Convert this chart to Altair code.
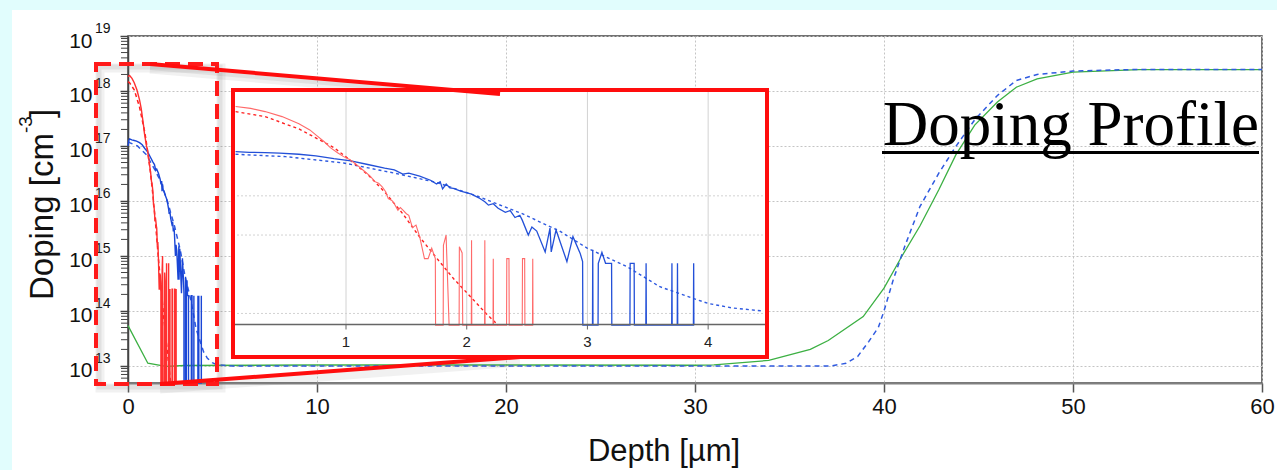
import altair as alt
import pandas as pd

# ---------------------------------------------------------------------------
# Doping profiles: depth in µm, concentration in cm^-3 (0 = no counts)
# ---------------------------------------------------------------------------
red_meas_depth = [0.00, 0.085, 0.21, 0.33, 0.47, 0.61, 0.70, 0.755, 0.82, 0.87,
                  0.93, 0.98, 1.03, 1.07, 1.11, 1.15, 1.20, 1.24, 1.27, 1.30,
                  1.33, 1.35, 1.38, 1.40, 1.43, 1.45, 1.47, 1.50, 1.52, 1.55,
                  1.58, 1.61, 1.65, 1.68, 1.71, 1.74, 1.742,
                  1.805, 1.807, 1.829, 1.854,
                  1.937, 1.939, 1.962, 1.967,
                  2.038, 2.040, 2.042,
                  2.148, 2.150, 2.152,
                  2.218, 2.220, 2.222,
                  2.330, 2.332, 2.350, 2.352,
                  2.460, 2.462, 2.480, 2.482,
                  2.545, 2.547, 2.549]
red_meas_doping = [1.82e18, 1.91e18, 1.70e18, 1.41e18, 1.05e18, 6.9e17, 4.8e17, 3.5e17, 2.4e17, 1.7e17,
                   1.26e17, 1.0e17, 8.5e16, 6.9e16, 5.5e16, 4.3e16, 3.2e16, 2.3e16, 2.1e16, 1.7e16,
                   1.26e16, 8.5e15, 7.6e15, 6.3e15, 4.3e15, 5.0e15, 4.4e15, 3.5e15, 3.2e15, 1.55e15,
                   1.8e15, 9.1e14, 2.5e14, 2.5e14, 4.6e14, 2.5e14, 0,
                   0, 5.5e14, 1.0e15, 0,
                   0, 5.0e14, 3.5e14, 0,
                   0, 7.4e14, 0,
                   0, 7.4e14, 0,
                   0, 2.5e14, 0,
                   0, 2.5e14, 2.5e14, 0,
                   0, 2.5e14, 2.5e14, 0,
                   0, 2.5e14, 0]

red_sim_depth = [0.00, 0.085, 0.33, 0.61, 0.90, 1.04, 1.18, 1.32, 1.47, 1.61,
                 1.75, 1.89, 2.04, 2.16, 2.26]
red_sim_doping = [1.48e18, 1.41e18, 1.05e18, 5.1e17, 1.7e17, 7.9e16, 3.5e16, 1.26e16, 3.5e15, 8.9e14,
                  2.6e14, 7.8e13, 2.5e13, 1.0e13, 5.0e12]

blue_meas_depth = [0.00, 0.04, 0.085, 0.20, 0.33, 0.45, 0.61, 0.75, 0.90, 1.04,
                   1.18, 1.32, 1.40, 1.47, 1.52, 1.61, 1.70, 1.75, 1.78, 1.80,
                   1.83, 1.86, 1.89, 1.95, 2.04, 2.10, 2.15, 2.18, 2.22, 2.26,
                   2.32, 2.36, 2.40, 2.44, 2.46, 2.51, 2.54, 2.58, 2.65, 2.69,
                   2.70, 2.74, 2.83, 2.88, 2.94, 2.96, 2.962,
                   3.042, 3.044, 3.046,
                   3.088, 3.090, 3.120, 3.150, 3.200, 3.202,
                   3.352, 3.354, 3.387, 3.389,
                   3.484, 3.486, 3.488,
                   3.698, 3.700, 3.702,
                   3.744, 3.746, 3.748,
                   3.878, 3.880, 3.882]
blue_meas_doping = [1.0e17, 1.26e17, 1.35e17, 1.29e17, 1.26e17, 1.23e17, 1.15e17, 1.05e17, 8.9e16, 7.8e16,
                    6.3e16, 5.1e16, 4.6e16, 3.6e16, 3.8e16, 3.2e16, 2.5e16, 2.0e16, 2.3e16, 1.5e16,
                    2.0e16, 1.6e16, 1.55e16, 1.32e16, 1.1e16, 8.9e15, 7.1e15, 5.8e15, 6.3e15, 4.8e15,
                    3.8e15, 4.2e15, 2.8e15, 3.2e15, 2.4e15, 1.0e15, 1.6e15, 1.26e15, 3.7e14, 1.5e15,
                    3.7e14, 1.35e15, 2.1e14, 9.1e14, 3.4e14, 2.1e14, 0,
                    0, 4.2e14, 0,
                    0, 1.9e14, 3.6e14, 1.9e14, 1.9e14, 0,
                    0, 1.9e14, 1.9e14, 0,
                    0, 1.9e14, 0,
                    0, 1.9e14, 0,
                    0, 1.9e14, 0,
                    0, 1.9e14, 0]

blue_sim_depth = [0.00, 0.085, 0.50, 0.98, 1.40, 1.75, 2.10, 2.46, 2.77, 3.00,
                  3.33, 3.60, 3.88, 4.00, 4.20, 4.46, 4.70, 5.50, 37.2, 38.0,
                  38.6, 39.2, 39.7, 40.0, 40.5, 41.1, 41.9, 42.9, 43.8, 44.8,
                  46.0, 47.0, 48.1, 50.0, 53.0, 60.0]
blue_sim_doping = [1.2e17, 1.15e17, 1.0e17, 6.9e16, 3.8e16, 2.2e16, 9.5e15, 3.5e15, 1.26e15, 4.6e14,
                   1.55e14, 4.8e13, 2.4e13, 1.8e13, 1.38e13, 1.15e13, 1.05e13, 1.0e13, 1.0e13, 1.12e13,
                   1.48e13, 2.8e13, 5.0e13, 1.0e14, 3.8e14, 1.5e15, 7.9e15, 3.2e16, 9.8e16, 3.0e17,
                   8.3e17, 1.55e18, 2.0e18, 2.3e18, 2.45e18, 2.45e18]

green_depth = [0.0, 1.05, 2.0, 3.0, 10.0, 20.0, 30.0, 31.0, 33.9, 36.1,
               37.05, 38.9, 40.0, 40.9, 41.9, 42.9, 43.8, 44.8, 46.0, 47.0,
               48.1, 50.0, 53.5, 60.0]
green_doping = [5.4e13, 1.12e13, 9.8e12, 1.02e13, 1.04e13, 1.04e13, 1.03e13, 1.05e13, 1.26e13, 2.0e13,
                2.9e13, 7.9e13, 2.6e14, 9.3e14, 3.5e15, 1.6e16, 6.9e16, 2.4e17, 6.3e17, 1.17e18,
                1.66e18, 2.2e18, 2.45e18, 2.45e18]

x_ticks = [0, 10, 20, 30, 40, 50, 60]
decades = [13, 14, 15, 16, 17, 18, 19]
inset_x_ticks = [1, 2, 3, 4]
inset_grid_decades = [13, 15, 16]

FLOOR = 1e10      # stands in for zero counts on the log axis (clamped to the bottom)
FONT = "Liberation Sans"


def profile(depth, doping):
    return pd.DataFrame({
        "depth": depth,
        "doping": [v if v > 0 else FLOOR for v in doping],
        "i": list(range(len(depth))),
    })


red_meas = profile(red_meas_depth, red_meas_doping)
red_sim = profile(red_sim_depth, red_sim_doping)
blue_meas = profile(blue_meas_depth, blue_meas_doping)
blue_sim = profile(blue_sim_depth, blue_sim_doping)
green = profile(green_depth, green_doping)

one = pd.DataFrame({"k": [0]})

# ---------------------------------------------------------------------------
# Main plot
# ---------------------------------------------------------------------------
X_MAIN = alt.Scale(domain=[0, 60], nice=False, zero=False)
Y_MAIN = alt.Scale(type="log", domain=[10 ** 12.69, 1e19], nice=False, clamp=True)

x_axis = alt.Axis(values=x_ticks, title=None, orient="bottom", labelFont=FONT,
                  labelFontSize=22, labelColor="#111", labelPadding=4, labelFlush=False,
                  tickSize=9, tickWidth=1.5, tickColor="#555", domainColor="#808080",
                  domainWidth=2, grid=True, gridColor="#c4c4c4", gridDash=[2, 2], gridWidth=1)
y_axis = alt.Axis(values=[10.0 ** d for d in decades], title=None, orient="left",
                  labelExpr="'10'", labelFont=FONT, labelFontSize=21, labelColor="#111",
                  labelPadding=28, labelBaseline="alphabetic", labelOffset=11,
                  labelFlush=False, labelOverlap=False, tickSize=8, tickWidth=1.5,
                  tickColor="#444", domainColor="#444", domainWidth=1.5, grid=True,
                  gridColor="#c4c4c4", gridDash=[2, 2], gridWidth=1)

# axes and grid of the main plot, drawn from the tick values
main_axes = alt.Chart(pd.DataFrame({"x": x_ticks, "y": [10.0 ** d for d in decades]})).mark_point(
    opacity=0).encode(
    x=alt.X("x:Q", scale=X_MAIN, axis=x_axis),
    y=alt.Y("y:Q", scale=Y_MAIN, axis=y_axis),
)


def main_line(df, color, width, dash=None):
    kw = dict(color=color, strokeWidth=width)
    if dash:
        kw["strokeDash"] = dash
    return alt.Chart(df).mark_line(**kw).encode(
        x=alt.X("depth:Q", scale=X_MAIN, axis=None),
        y=alt.Y("doping:Q", scale=Y_MAIN, axis=None),
        order=alt.Order("i:Q"),
    )


minor = pd.DataFrame({"v": [m * 10.0 ** n for n in range(12, 19) for m in range(2, 10)
                            if 10 ** 12.69 <= m * 10.0 ** n <= 1e19]})
minor_ticks = alt.Chart(minor).mark_rule(color="#444", strokeWidth=1).encode(
    y=alt.Y("v:Q", scale=Y_MAIN, axis=None),
    x=alt.value(-7), x2=alt.value(0),
)

expo = pd.DataFrame({"v": [10.0 ** d for d in decades], "t": [str(d) for d in decades]})
exponents = alt.Chart(expo).mark_text(font=FONT, fontSize=14, align="left",
                                      baseline="alphabetic", dy=-3, color="#111").encode(
    y=alt.Y("v:Q", scale=Y_MAIN, axis=None),
    x=alt.value(-33),
    text="t:N",
)

main_layers = [
    main_axes,
    main_line(green, "#3cb043", 1.3),
    main_line(blue_sim, "#2f5ae0", 1.5, dash=[5, 4]),
    main_line(red_sim, "#ff2020", 1.5, dash=[4, 3]),
    main_line(blue_meas, "#1a46d6", 1.4),
    main_line(red_meas, "#ff3030", 1.4),
    minor_ticks,
    exponents,
]

# ---------------------------------------------------------------------------
# Magnified inset of the first 4.5 µm
# ---------------------------------------------------------------------------
X_IN = alt.Scale(domain=[0, 4.5], range=[97.3, 640.5], nice=False, zero=False)
Y_IN = alt.Scale(type="log", domain=[10 ** 12.7, 10 ** 18.7], range=[289.2, 54],
                 nice=False, clamp=True)
IN_LEFT, IN_RIGHT, IN_TOP, IN_BOTTOM, IN_AXIS = 105, 639, 54, 321, 288.5

inset_bg = alt.Chart(one).mark_rect(fill="white").encode(
    x=alt.value(IN_LEFT), x2=alt.value(IN_RIGHT), y=alt.value(IN_TOP), y2=alt.value(IN_BOTTOM))

inset_hgrid = alt.Chart(pd.DataFrame({"v": [10.0 ** d for d in inset_grid_decades]})).mark_rule(
    color="#d2d2d2", strokeWidth=1, strokeDash=[2, 2]).encode(
    y=alt.Y("v:Q", scale=Y_IN, axis=None), x=alt.value(IN_LEFT), x2=alt.value(IN_RIGHT))
inset_vgrid = alt.Chart(pd.DataFrame({"v": inset_x_ticks})).mark_rule(
    color="#d2d2d2", strokeWidth=1).encode(
    x=alt.X("v:Q", scale=X_IN, axis=None), y=alt.value(IN_TOP), y2=alt.value(IN_AXIS))


def inset_line(df, color, width, dash=None):
    kw = dict(color=color, strokeWidth=width)
    if dash:
        kw["strokeDash"] = dash
    return alt.Chart(df).transform_filter(
        "datum.depth >= 0.08 && datum.depth <= 4.47"
    ).mark_line(**kw).encode(
        x=alt.X("depth:Q", scale=X_IN, axis=None),
        y=alt.Y("doping:Q", scale=Y_IN, axis=None),
        order=alt.Order("i:Q"),
    )


inset_axis = alt.Chart(one).mark_rule(color="#666", strokeWidth=1.5).encode(
    x=alt.value(IN_LEFT), x2=alt.value(IN_RIGHT), y=alt.value(IN_AXIS))
inset_ticks = alt.Chart(pd.DataFrame({"v": inset_x_ticks})).mark_rule(
    color="#666", strokeWidth=1).encode(
    x=alt.X("v:Q", scale=X_IN, axis=None), y=alt.value(IN_AXIS), y2=alt.value(IN_AXIS + 5))
inset_labels = alt.Chart(pd.DataFrame({"v": inset_x_ticks, "t": [str(v) for v in inset_x_ticks]})).mark_text(
    font=FONT, fontSize=15, color="#222", baseline="alphabetic").encode(
    x=alt.X("v:Q", scale=X_IN, axis=None), y=alt.value(311), text="t:N")
inset_frame = alt.Chart(one).mark_rect(fill=None, stroke="#ff0d0d", strokeWidth=4).encode(
    x=alt.value(IN_LEFT), x2=alt.value(IN_RIGHT), y=alt.value(IN_TOP), y2=alt.value(IN_BOTTOM))

inset_layers = [
    inset_bg, inset_hgrid, inset_vgrid,
    inset_line(blue_sim, "#2f5ae0", 1.4, dash=[3, 3]),
    inset_line(red_sim, "#ff2020", 1.4, dash=[3, 3]),
    inset_line(blue_meas, "#2350d8", 1.3),
    inset_line(red_meas, "#ff6a6a", 1.1),
    inset_axis, inset_ticks, inset_labels,
]


# ---------------------------------------------------------------------------
# Zoom box, connectors, page strips and titles
# ---------------------------------------------------------------------------
def rule(x, y, x2, y2, color, width, opacity=1.0):
    return alt.Chart(one).mark_rule(color=color, strokeWidth=width, opacity=opacity,
                                    strokeCap="butt").encode(
        x=alt.value(x), y=alt.value(y), x2=alt.value(x2), y2=alt.value(y2))


def box(x, y, x2, y2, color, width, dash=None, opacity=1.0):
    kw = dict(fill=None, stroke=color, strokeWidth=width, opacity=opacity)
    if dash:
        kw["strokeDash"] = dash
    return alt.Chart(one).mark_rect(**kw).encode(
        x=alt.value(x), x2=alt.value(x2), y=alt.value(y), y2=alt.value(y2))


def label(text, x, y, size, angle=0, align="left", font=FONT, color="#111"):
    kw = dict(text=text, font=font, fontSize=size, color=color, align=align,
              baseline="alphabetic")
    if angle:
        kw["angle"] = angle
    return alt.Chart(one).mark_text(**kw).encode(x=alt.value(x), y=alt.value(y))


strip_layers = [
    alt.Chart(one).mark_rect(fill="#e1fdfd").encode(
        x=alt.value(-128), x2=alt.value(-116), y=alt.value(-36), y2=alt.value(434)),
    alt.Chart(one).mark_rect(fill="#e1fdfd").encode(
        x=alt.value(-128), x2=alt.value(1149), y=alt.value(-36), y2=alt.value(-26)),
]

shadow_layers = [
    box(-28, 32, 93, 352, "#777", 9, opacity=0.10),
    box(-29, 31, 92, 351, "#777", 5, opacity=0.12),
    rule(22, 33, 372, 63, "#777", 9, opacity=0.10),
    rule(22, 32, 372, 62, "#777", 4, opacity=0.12),
    rule(32, 353, 392, 326, "#777", 9, opacity=0.10),
]

zoom_layers = [
    inset_frame,
    box(-32, 28, 89, 348, "#ff1a1a", 4, dash=[15, 8]),
    rule(22, 28, 372, 58, "#ff0d0d", 4),
    rule(32, 348, 392, 321, "#ff0d0d", 4),
]

title_layers = [
    label("Depth [µm]", 536, 425, 31, align="center"),
    label("Doping [cm", -75, 264, 33, angle=270),
    label("-3", -96, 97, 19, angle=270),
    label("]", -75, 82, 33, angle=270),
    label("Doping Profile", 1131, 109, 63, align="right", font="Liberation Serif", color="#000"),
    rule(754, 116.5, 1131, 116.5, "#000", 3),
]

chart = alt.layer(
    *strip_layers, *main_layers, *shadow_layers, *inset_layers, *zoom_layers, *title_layers,
).resolve_scale(
    x="independent", y="independent"
).properties(
    width=1134, height=347,
    autosize=alt.AutoSizeParams(type="none"),
    padding={"left": 128, "top": 36, "right": 15, "bottom": 87},
    background="white",
).configure_view(
    stroke="#444", strokeWidth=1.5,
)

chart.save("out.html", embed_options={"renderer": "svg", "actions": False})
